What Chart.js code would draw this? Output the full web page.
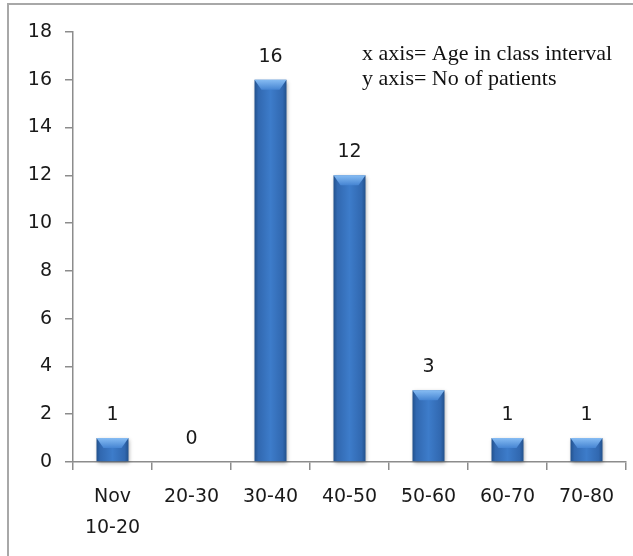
<!DOCTYPE html>
<html>
<head>
<meta charset="utf-8">
<script src="https://cdn.jsdelivr.net/npm/chart.js@4.4.1/dist/chart.umd.min.js"></script>
<style>
    html, body { margin: 0; padding: 0; background: #fff; }
    #wrap { position: relative; width: 633px; height: 556px; overflow: hidden; }
    #frame { position: absolute; left: 7px; top: 3px; width: 700px; height: 600px;
             border-top: 2px solid #a8a8a8; border-left: 2px solid #a8a8a8; }
    canvas { position: absolute; left: 0; top: 0; }
</style>
</head>
<body>
<div id="wrap">
    <div id="frame"></div>
    <canvas id="ageChart" width="633" height="556"></canvas>
</div>
<script>
// Data
const ageGroups = [['Nov', '10-20'], '20-30', '30-40', '40-50', '50-60', '60-70', '70-80'];
const patients = [1, 0, 16, 12, 3, 1, 1];
const yMin = 0;
const yMax = 18;
const yStep = 2;
const noteLines = ['x axis= Age in class interval', 'y axis= No of patients'];

const TICK_FONT = { family: '"DejaVu Sans", Verdana, sans-serif', size: 19 };
const AXIS_COLOR = '#8c8c8c';

// Bars drawn with a bevel look on top of the library's bar boxes
const bevelBars = {
    id: 'bevelBars',
    afterDatasetsDraw(chart) {
        const c = chart.ctx;
        chart.getDatasetMeta(0).data.forEach(bar => {
            const { x, y, base, width } = bar.getProps(['x', 'y', 'base', 'width'], true);
            const h = base - y;
            if (h <= 0) return;
            const l = x - width / 2, r = x + width / 2;

            c.save();
            c.shadowColor = 'rgba(0,0,0,0.35)';
            c.shadowBlur = 4;
            c.shadowOffsetX = 1;
            c.shadowOffsetY = 2;
            const g = c.createLinearGradient(l, 0, r, 0);
            g.addColorStop(0, '#22518c');
            g.addColorStop(0.12, '#3168b0');
            g.addColorStop(0.5, '#3d7cca');
            g.addColorStop(0.88, '#3168b0');
            g.addColorStop(1, '#22518c');
            c.fillStyle = g;
            c.fillRect(l, y, width, h);
            c.restore();

            // top bevel
            const d = Math.min(10, h * 0.45);
            c.save();
            const tg = c.createLinearGradient(0, y, 0, y + d);
            tg.addColorStop(0, '#86bcf3');
            tg.addColorStop(1, '#4584d2');
            c.fillStyle = tg;
            c.beginPath();
            c.moveTo(l, y);
            c.lineTo(r, y);
            c.lineTo(r - 7, y + d);
            c.lineTo(l + 7, y + d);
            c.closePath();
            c.fill();
            c.restore();
        });
    }
};

// Value labels above bars
const valueLabels = {
    id: 'valueLabels',
    afterDraw(chart) {
        const c = chart.ctx;
        c.save();
        c.font = `${TICK_FONT.size}px ${TICK_FONT.family}`;
        c.fillStyle = '#1a1a1a';
        c.textAlign = 'center';
        c.textBaseline = 'middle';
        chart.getDatasetMeta(0).data.forEach((bar, i) => {
            c.fillText(String(patients[i]), bar.x, bar.y - 23);
        });
        c.restore();
    }
};

// Axis note in the top right corner
const axisNote = {
    id: 'axisNote',
    afterDraw(chart) {
        const c = chart.ctx;
        c.save();
        c.font = '22px "Liberation Serif", "Times New Roman", serif';
        c.fillStyle = '#111';
        c.textAlign = 'left';
        c.textBaseline = 'alphabetic';
        noteLines.forEach((line, i) => c.fillText(line, 362, 60 + i * 25));
        c.restore();
    }
};

const ctx = document.getElementById('ageChart').getContext('2d');
const ageChart = new Chart(ctx, {
    type: 'bar',
    data: {
        labels: ageGroups,
        datasets: [{
            label: 'No of patients',
            data: patients,
            backgroundColor: 'rgba(0,0,0,0)',
            borderWidth: 0,
            barPercentage: 0.405,
            categoryPercentage: 1
        }]
    },
    options: {
        responsive: false,
        animation: false,
        devicePixelRatio: 1,
        layout: { padding: { top: 32, right: 7, left: 0, bottom: 0 } },
        plugins: {
            legend: { display: false },
            tooltip: { enabled: false }
        },
        scales: {
            x: {
                grid: {
                    offset: true,
                    drawOnChartArea: false,
                    color: AXIS_COLOR,
                    lineWidth: 1.5,
                    tickLength: 8
                },
                border: { color: AXIS_COLOR, width: 1.5 },
                ticks: {
                    font: { ...TICK_FONT, lineHeight: 1.6 },
                    color: '#1a1a1a',
                    padding: 12,
                    maxRotation: 0,
                    autoSkip: false
                },
                afterFit(scale) { scale.height = 94; }
            },
            y: {
                min: yMin,
                max: yMax,
                grid: {
                    drawOnChartArea: false,
                    color: AXIS_COLOR,
                    lineWidth: 1.5,
                    tickLength: 8
                },
                border: { color: AXIS_COLOR, width: 1.5 },
                ticks: {
                    stepSize: yStep,
                    font: TICK_FONT,
                    color: '#1a1a1a',
                    padding: 13
                },
                afterFit(scale) { scale.width = 73; }
            }
        }
    },
    plugins: [bevelBars, valueLabels, axisNote]
});
</script>
</body>
</html>
